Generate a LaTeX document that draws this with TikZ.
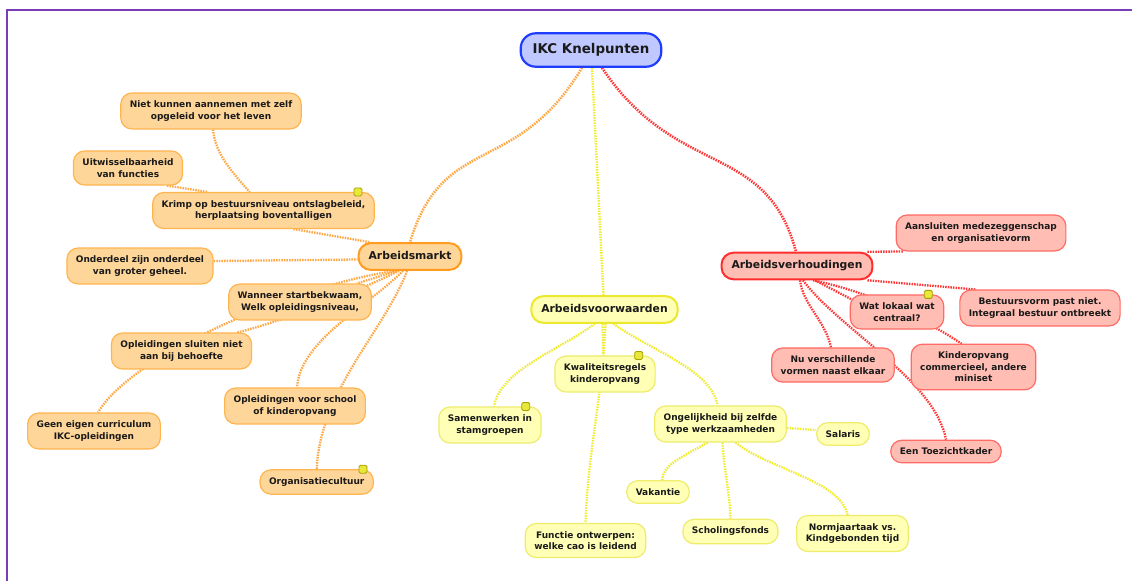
\documentclass[tikz,border=0pt]{standalone}
\usepackage{fontspec}
\setmainfont{DejaVu Sans}
\usetikzlibrary{calc}
\pgfdeclarelayer{bg}
\pgfsetlayers{bg,main}
\definecolor{ofill}{HTML}{FFD699}
\definecolor{ostroke}{HTML}{FFB54F}
\definecolor{omain}{HTML}{FF9B1F}
\definecolor{oline}{HTML}{FFA743}
\definecolor{yfill}{HTML}{FFFFB5}
\definecolor{ystroke}{HTML}{EEEC6A}
\definecolor{ymain}{HTML}{EBE82E}
\definecolor{yline}{HTML}{F0EC30}
\definecolor{rfill}{HTML}{FFBDB3}
\definecolor{rstroke}{HTML}{FF6B66}
\definecolor{rmain}{HTML}{FF2E2E}
\definecolor{rline}{HTML}{FF3535}
\definecolor{bfill}{HTML}{BFC9FF}
\definecolor{bstroke}{HTML}{1E3DFF}
\definecolor{framec}{HTML}{7A3DB8}
\definecolor{notefill}{HTML}{E8E83A}
\definecolor{notestroke}{HTML}{A8A000}
\definecolor{txt}{HTML}{1A1A1A}
\begin{document}
\begin{tikzpicture}[x=1pt,y=-1pt,
  base/.style={rounded corners=11pt, align=center, inner xsep=9pt, inner ysep=7.8pt,
    font=\bfseries\fontsize{9}{11.5}\selectfont, text=txt, line width=1.2pt},
  ochild/.style={base, fill=ofill, draw=ostroke},
  ychild/.style={base, fill=yfill, draw=ystroke},
  rchild/.style={base, fill=rfill, draw=rstroke},
  mainbox/.style={rounded corners=12pt, align=center, inner xsep=10pt, inner ysep=8pt,
    text height=8.2pt, text depth=2.4pt,
    font=\bfseries\fontsize{10.8}{13}\selectfont, text=txt, line width=2pt},
  rootbox/.style={rounded corners=15pt, align=center, inner xsep=12pt, inner ysep=10pt,
    text height=10.2pt, text depth=3.2pt, fill=bfill, draw=bstroke,
    font=\bfseries\fontsize{13.4}{16}\selectfont, text=txt, line width=2.2pt},
  conn/.style={line width=2.3pt, dash pattern=on 1.5pt off 1.1pt},
  oconn/.style={conn, draw=oline},
  yconn/.style={conn, draw=yline},
  rconn/.style={conn, draw=rline},
  note/.style={draw=notestroke, fill=notefill, line width=0.8pt, minimum size=8pt,
    inner sep=0pt, rounded corners=1.5pt}
]
\useasboundingbox (0,0) rectangle (1132,581);
\begin{pgfonlayer}{bg}
\fill[white] (0,0) rectangle (1132,581);
\draw[framec, line width=2pt] (7,581) -- (7,10) -- (1132,10);
\end{pgfonlayer}

% root and main nodes
\node[rootbox] (root) at (591,50) {IKC Knelpunten};
\node[mainbox, fill=ofill, draw=omain] (am) at (410,256.5) {Arbeidsmarkt};
\node[mainbox, fill=yfill, draw=ymain] (av) at (604.5,309.5) {Arbeidsvoorwaarden};
\node[mainbox, fill=rfill, draw=rmain] (arbv) at (797,266) {Arbeidsverhoudingen};

% orange children
\node[ochild] (o1) at (211,111) {Niet kunnen aannemen met zelf\\opgeleid voor het leven};
\node[ochild] (o2) at (128,168) {Uitwisselbaarheid\\van functies};
\node[ochild] (o3) at (263.5,210.5) {Krimp op bestuursniveau ontslagbeleid,\\herplaatsing boventalligen};
\node[ochild] (o4) at (140,266) {Onderdeel zijn onderdeel\\van groter geheel.};
\node[ochild] (o5) at (300,302) {Wanneer startbekwaam,\\Welk opleidingsniveau,};
\node[ochild] (o6) at (181.5,351) {Opleidingen sluiten niet\\aan bij behoefte};
\node[ochild] (o7) at (94,431) {Geen eigen curriculum\\IKC-opleidingen};
\node[ochild] (o8) at (295,406) {Opleidingen voor school\\of kinderopvang};
\node[ochild] (o9) at (316.7,482) {Organisatiecultuur};

% yellow children
\node[ychild] (y1) at (605,374) {Kwaliteitsregels\\kinderopvang};
\node[ychild] (y2) at (490,425) {Samenwerken in\\stamgroepen};
\node[ychild] (y3) at (585.5,540.5) {Functie ontwerpen:\\welke cao is leidend};
\node[ychild] (y4) at (720.5,424) {Ongelijkheid bij zelfde\\type werkzaamheden};
\node[ychild] (y5) at (843,434) {Salaris};
\node[ychild] (y6) at (658,492) {Vakantie};
\node[ychild] (y7) at (730.5,531.5) {Scholingsfonds};
\node[ychild] (y8) at (852.5,533.5) {Normjaartaak vs.\\Kindgebonden tijd};

% red children
\node[rchild] (r1) at (981,233) {Aansluiten medezeggenschap\\en organisatievorm};
\node[rchild] (r2) at (1040,308) {Bestuursvorm past niet.\\Integraal bestuur ontbreekt};
\node[rchild] (r3) at (897,312) {Wat lokaal wat\\centraal?};
\node[rchild] (r4) at (973.5,367) {Kinderopvang\\commercieel, andere\\miniset};
\node[rchild] (r5) at (833,365) {Nu verschillende\\vormen naast elkaar};
\node[rchild] (r6) at (946,451.5) {Een Toezichtkader};

% notes
\node[note] (n1) at ([xshift=-17pt]o3.north east) {};
\node[note] (n2) at ([xshift=-11pt]o9.north east) {};
\node[note] (n3) at ([xshift=-17pt]y1.north east) {};
\node[note] (n4) at ([xshift=-16pt]y2.north east) {};
\node[note] (n5) at ([xshift=-16pt]r3.north east) {};

\begin{pgfonlayer}{bg}
% root connectors
\draw[oconn, line width=2.6pt] ([xshift=-9pt]root.south) .. controls (516,178) and (443,132) .. (am.north);
\draw[yconn, line width=2.4pt] ([xshift=1pt]root.south) -- ([xshift=-1pt]av.north);
\draw[rconn, line width=2.6pt] ([xshift=11pt]root.south) .. controls (677,180) and (766,140) .. ([xshift=-1pt]arbv.north);

% orange
\draw[oconn] ([xshift=30pt]o3.south) -- ([xshift=-40pt]am.north);
\draw[oconn] ([xshift=2pt]o1.south) .. controls (215,155) and (235,175) .. ([xshift=-14pt]o3.north);
\draw[oconn] ([xshift=39pt]o2.south) -- ([xshift=-56pt]o3.north);
\draw[oconn] ([yshift=5pt]o4.east) -- ([yshift=-3pt]am.west);
\draw[oconn] ([xshift=-13pt]am.south) -- ([xshift=-15pt]o5.north east);
\draw[oconn] ([xshift=-11pt]am.south) .. controls (350,295) and (280,322) .. ([xshift=-15pt]o6.north east);
\draw[oconn] ([xshift=-14pt]am.south) .. controls (310,282) and (135,350) .. ([xshift=4pt]o7.north);
\draw[oconn] ([xshift=-7pt]am.south) .. controls (370,305) and (300,340) .. ([xshift=2pt]o8.north);
\draw[oconn] ([xshift=-3pt]am.south) .. controls (385,330) and (320,390) .. (o9.north);

% yellow
\draw[yconn] ([xshift=-2pt]av.south) -- ([xshift=-2pt]y1.north);
\draw[yconn] ([xshift=1pt]av.south) .. controls (602,400) and (588,450) .. (y3.north);
\draw[yconn] ([xshift=-10pt]av.south) .. controls (560,350) and (500,370) .. ([xshift=4pt]y2.north);
\draw[yconn] ([xshift=9pt]av.south) .. controls (650,350) and (712,370) .. ([xshift=-3pt]y4.north);
\draw[yconn] ([yshift=-4pt]y4.east) -- ([yshift=4pt]y5.west);
\draw[yconn] ([xshift=-13pt]y4.south) .. controls (680,458) and (663,465) .. ([xshift=4pt]y6.north);
\draw[yconn] ([xshift=2pt]y4.south) .. controls (724,470) and (730,495) .. (y7.north);
\draw[yconn] ([xshift=15pt]y4.south) .. controls (770,470) and (840,480) .. ([xshift=-5pt]y8.north);

% red
\draw[rconn] ([xshift=-6pt]arbv.north east) -- ([xshift=8pt]r1.south west);
\draw[rconn] ([xshift=-6pt]arbv.south east) -- ([xshift=16pt]r2.north west);
\draw[rconn] ([xshift=18pt]arbv.south) -- ([xshift=-27pt,yshift=3pt]r3.center);
\draw[rconn] ([xshift=16pt]arbv.south) .. controls (860,290) and (910,310) .. ([xshift=-12pt]r4.north);
\draw[rconn] ([xshift=3pt]arbv.south) .. controls (803,305) and (825,320) .. ([xshift=-2pt]r5.north);
\draw[rconn] ([xshift=6pt]arbv.south) .. controls (840,330) and (935,380) .. (r6.north);
\end{pgfonlayer}
\end{tikzpicture}
\end{document}
